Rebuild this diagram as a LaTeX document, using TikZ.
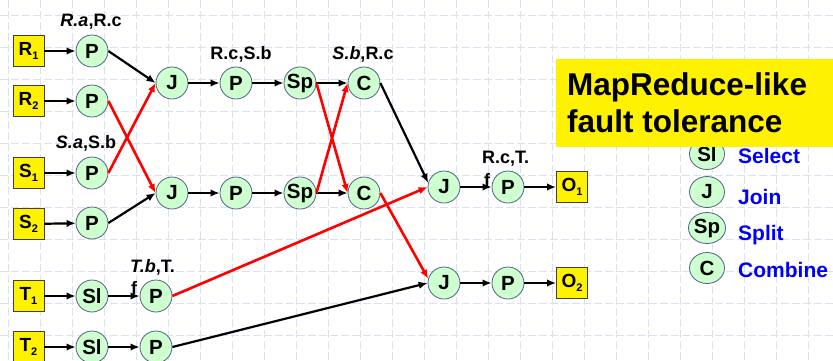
\documentclass[tikz,border=0pt]{standalone}
\usepackage{fontspec}
\setmainfont{Liberation Sans}
\usetikzlibrary{arrows.meta,shapes.geometric}
\definecolor{gridc}{RGB}{218,225,245}
\definecolor{nodefill}{RGB}{206,255,206}
\definecolor{nodeedge}{RGB}{85,95,140}
\definecolor{legblue}{RGB}{0,0,250}
\newcommand\subidx[1]{\raisebox{-4.5pt}{\fontsize{11}{11}\selectfont #1}}
\begin{document}
\begin{tikzpicture}[x=1pt,y=-1pt,
 op/.style={circle,draw=nodeedge,fill=nodefill,line width=0.8pt,minimum size=32pt,inner sep=0pt,font=\fontsize{20.5}{20.5}\selectfont\bfseries},
 legop/.style={ellipse,draw=nodeedge,fill=nodefill,line width=0.8pt,minimum width=35pt,minimum height=31pt,inner sep=0pt,font=\fontsize{20.5}{20.5}\selectfont\bfseries},
 src/.style={rectangle,draw=black!75,fill=yellow,line width=0.8pt,minimum size=31pt,inner sep=0pt,font=\fontsize{19}{19}\selectfont\bfseries},
 arr/.style={-{Latex[length=9pt,width=7.5pt]},line width=2.2pt,black},
 rarr/.style={-{Latex[length=9pt,width=7.5pt]},line width=2.6pt,red},
 lab/.style={font=\fontsize{18}{18}\selectfont\bfseries,inner sep=0pt,anchor=base},
 labw/.style={lab,anchor=base west},
 legtxt/.style={font=\fontsize{21}{21}\selectfont\bfseries,text=legblue,inner sep=0pt,anchor=base west},
 gridline/.style={gridc,line width=0.9pt,dash pattern=on 8pt off 3pt}]
\useasboundingbox (0,0) rectangle (833,360);
\fill[white] (0,0) rectangle (833,360);
\foreach \x in {8,40,...,808} \draw[gridline] (\x,0) -- (\x,360);
\foreach \y in {15,47,...,335} \draw[gridline] (0,\y) -- (833,\y);

% sources
\node[src] (r1) at (28.5,51) {R\subidx{1}};
\node[src] (r2) at (28.5,101) {R\subidx{2}};
\node[src] (s1) at (28.5,173) {S\subidx{1}};
\node[src] (s2) at (28.5,224) {S\subidx{2}};
\node[src] (t1) at (28.5,296) {T\subidx{1}};
\node[src] (t2) at (28.5,347) {T\subidx{2}};
\node[src] (o1) at (572,187) {O\subidx{1}};
\node[src] (o2) at (572,283) {O\subidx{2}};

% operators
\node[op] (p1) at (92,51) {P};
\node[op] (p2) at (92,101) {P};
\node[op] (p3) at (92,173) {P};
\node[op] (p4) at (92,223) {P};
\node[op] (sl1) at (92,296) {Sl};
\node[op] (sl2) at (92,347) {Sl};
\node[op] (pt1) at (156,296) {P};
\node[op] (pt2) at (156,347) {P};
\node[op] (j1) at (172,83) {J};
\node[op] (j2) at (172,193) {J};
\node[op] (pj1) at (236,83) {P};
\node[op] (pj2) at (236,193) {P};
\node[op] (sp1) at (300,83) {Sp};
\node[op] (sp2) at (300,193) {Sp};
\node[op] (c1) at (364,83) {C};
\node[op] (c2) at (364,193) {C};
\node[op] (j3) at (444,187) {J};
\node[op] (j4) at (444,283) {J};
\node[op] (pf1) at (508,187) {P};
\node[op] (pf2) at (508,283) {P};

% labels
\node[lab] (l1) at (91,26) {\itshape R.a\upshape,R.c};
\node[lab] (l2) at (86,148) {\itshape S.a\upshape,S.b};
\node[lab] (l3) at (241,59) {R.c,S.b};
\node[lab] (l4) at (363,59) {\itshape S.b\upshape,R.c};
\node[labw] (l5a) at (482,163) {R.c,T.};
\node[labw] (l5b) at (484,186) {f};
\node[labw] (l6a) at (130,272) {\itshape T.b\upshape,T.};
\node[labw] (l6b) at (131,294) {f};

% edges
\draw[arr] (r1) -- (p1);
\draw[arr] (r2) -- (p2);
\draw[arr] (s1) -- (p3);
\draw[arr] (s2) -- (p4);
\draw[arr] (t1) -- (sl1);
\draw[arr] (t2) -- (sl2);
\draw[arr] (sl1) -- (pt1);
\draw[arr] (sl2) -- (pt2);
\draw[arr] (p1.east) -- (j1.west);
\draw[rarr] (p3.east) -- (j1.west);
\draw[rarr] (p2.east) -- (j2.west);
\draw[arr] (p4.east) -- (j2.west);
\draw[arr] (j1) -- (pj1);
\draw[arr] (pj1) -- (sp1);
\draw[arr] (sp1) -- (c1);
\draw[arr] (j2) -- (pj2);
\draw[arr] (pj2) -- (sp2);
\draw[arr] (sp2) -- (c2);
\draw[rarr] (sp1.east) -- (c2.west);
\draw[rarr] (sp2.east) -- (c1.west);
\draw[arr] (c1.east) -- (j3.165);
\draw[rarr] (c2.east) -- (j4.165);
\draw[rarr] (pt1.east) -- (j3.west);
\draw[arr] (pt2.east) -- (j4.west);
\draw[arr] (j3) -- (pf1);
\draw[arr] (pf1) -- (o1);
\draw[arr] (j4) -- (pf2);
\draw[arr] (pf2) -- (o2);

% legend
\node[legop] (lsl) at (707,154) {Sl};
\node[legop] (lj) at (707,192) {J};
\node[legop] (lsp) at (707,228) {Sp};
\node[legop] (lc) at (707,268) {C};
\node[legtxt] (tsl) at (738,163) {Select};
\node[legtxt] (tj) at (738,204) {Join};
\node[legtxt] (tsp) at (738,240) {Split};
\node[legtxt] (tc) at (738,277) {Combine};

% title
\fill[yellow] (556,59) rectangle (833,147);
\node[font=\fontsize{31.5}{31.5}\selectfont\bfseries,inner sep=0pt,anchor=base west] (tt1) at (567,95) {MapReduce-like};
\node[font=\fontsize{31.5}{31.5}\selectfont\bfseries,inner sep=0pt,anchor=base west] (tt2) at (567,132) {fault tolerance};
\end{tikzpicture}
\end{document}
